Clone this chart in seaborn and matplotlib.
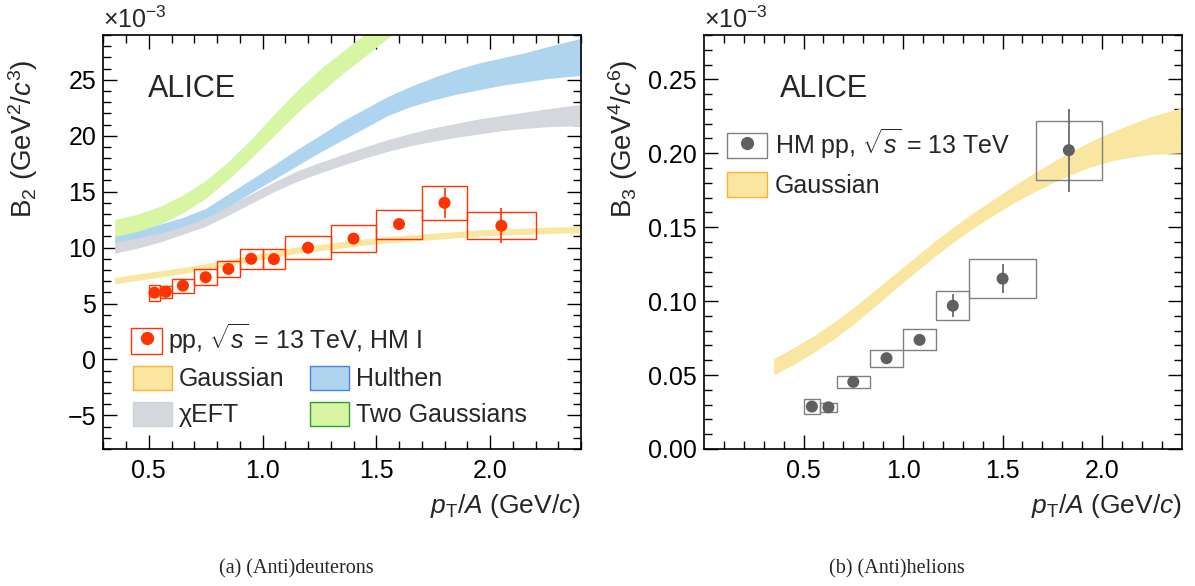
import numpy as np
import pandas as pd
import matplotlib
matplotlib.use("Agg")
import matplotlib.pyplot as plt
import matplotlib.patches as mpatches
from matplotlib.lines import Line2D
from matplotlib.legend_handler import HandlerTuple
from matplotlib.ticker import MultipleLocator, FixedLocator, FormatStrFormatter
import seaborn as sns

# (Anti)deuterons: B2 in units of 1e-3 GeV^2/c^3
d_edges = [0.5, 0.55, 0.6, 0.7, 0.8, 0.9, 1.0, 1.1, 1.3, 1.5, 1.7, 1.9, 2.2]
d_pt = [0.525, 0.575, 0.65, 0.75, 0.85, 0.95, 1.05, 1.2, 1.4, 1.6, 1.8, 2.05]
d_b2 = [5.97, 6.05, 6.6, 7.35, 8.1, 9.0, 8.97, 9.99, 10.8, 12.1, 14.0, 11.95]
d_stat = [0.2, 0.2, 0.25, 0.25, 0.25, 0.3, 0.3, 0.3, 0.35, 0.4, 1.37, 1.57]
d_syst = [0.7, 0.55, 0.62, 0.7, 0.73, 0.87, 0.9, 1.05, 1.22, 1.3, 1.5, 1.2]

# coalescence predictions for B2 (lower / upper edge of each band)
band_x = [0.35, 0.45, 0.55, 0.65, 0.75, 0.85, 0.95, 1.05, 1.15, 1.25, 1.35,
          1.45, 1.55, 1.65, 1.75, 1.85, 1.95, 2.05, 2.15, 2.25, 2.4]
gaus_lo = [6.77, 7.07, 7.37, 7.67, 8.02, 8.37, 8.77, 9.12, 9.47, 9.72, 9.97,
           10.22, 10.42, 10.57, 10.72, 10.87, 11.02, 11.12, 11.17, 11.27, 11.32]
gaus_hi = [7.33, 7.63, 7.93, 8.23, 8.58, 8.93, 9.33, 9.68, 10.03, 10.28, 10.53,
           10.78, 10.98, 11.13, 11.28, 11.43, 11.58, 11.68, 11.73, 11.83, 11.88]
hult_lo = [10.5, 10.85, 11.3, 11.9, 12.65, 13.7, 14.9, 16.1, 17.3, 18.5, 19.6,
           20.7, 21.8, 22.6, 23.2, 23.7, 24.1, 24.5, 24.8, 25.1, 25.4]
hult_hi = [11.25, 11.6, 12.1, 12.7, 13.5, 14.8, 16.1, 17.4, 18.75, 20.0, 21.3,
           22.4, 23.5, 24.4, 25.2, 25.9, 26.5, 26.95, 27.4, 27.95, 28.7]
eft_lo = [9.5, 9.95, 10.5, 11.2, 11.9, 12.9, 13.95, 15.0, 15.9, 16.65, 17.35,
          18.0, 18.6, 19.1, 19.5, 19.85, 20.15, 20.45, 20.65, 20.8, 20.9]
eft_hi = [10.7, 11.1, 11.6, 12.15, 12.8, 13.8, 14.8, 15.85, 16.85, 17.6, 18.3,
          19.0, 19.65, 20.2, 20.7, 21.1, 21.5, 21.8, 22.1, 22.4, 22.8]
twog_x = [0.35, 0.45, 0.55, 0.65, 0.75, 0.85, 0.95, 1.05, 1.15, 1.25, 1.35,
          1.45, 1.55, 1.65]
twog_lo = [11.0, 11.45, 12.1, 13.1, 14.4, 16.1, 18.0, 20.0, 22.0, 23.8, 25.5,
           27.1, 28.7, 30.2]
twog_hi = [12.5, 13.0, 13.7, 14.7, 16.0, 17.7, 19.7, 21.9, 24.0, 25.9, 27.5,
           29.1, 30.6, 32.0]

# (Anti)helions: B3 in units of 1e-3 GeV^4/c^6
h_edges = [0.5, 0.583, 0.667, 0.833, 1.0, 1.167, 1.333, 1.667, 2.0]
h_pt = [0.542, 0.625, 0.75, 0.917, 1.083, 1.25, 1.5, 1.833]
h_b3 = [0.0287, 0.0282, 0.0454, 0.0614, 0.0738, 0.0969, 0.1152, 0.2021]
h_stat = [0.002, 0.002, 0.002, 0.003, 0.003, 0.0076, 0.0096, 0.028]
h_syst = [0.005, 0.003, 0.0043, 0.0058, 0.0071, 0.0098, 0.013, 0.020]

h_gaus_lo = [0.0500, 0.0572, 0.0652, 0.0742, 0.0843, 0.0955, 0.1070, 0.1182,
             0.1293, 0.1396, 0.1491, 0.1577, 0.1660, 0.1733, 0.1800, 0.1860,
             0.1912, 0.1950, 0.1975, 0.1992, 0.2003]
h_gaus_hi = [0.0612, 0.0685, 0.0765, 0.0855, 0.0955, 0.1065, 0.1175, 0.1285,
             0.1395, 0.1498, 0.1595, 0.1685, 0.1775, 0.1860, 0.1940, 0.2015,
             0.2085, 0.2145, 0.2200, 0.2250, 0.2308]

RED = "#ff3300"
GREY = "#606060"
YELLOW = "#f9e6a0"
BLUE = "#aed4f0"
LGREY = "#d4d8dc"
GREEN = "#d8f5a3"

sns.set_theme(style="ticks")
plt.rcParams["font.family"] = ["Liberation Sans", "DejaVu Sans"]
plt.rcParams["mathtext.fontset"] = "custom"
plt.rcParams["mathtext.rm"] = "Liberation Sans"
plt.rcParams["mathtext.it"] = "Liberation Sans:italic"
plt.rcParams["mathtext.bf"] = "Liberation Sans:bold"
plt.rcParams["mathtext.sf"] = "Liberation Sans"

fig = plt.figure(figsize=(11.95, 5.86), dpi=100)
ax1 = fig.add_axes([0.08644, 0.2338, 0.39975, 0.70648])
ax2 = fig.add_axes([0.58912, 0.2338, 0.39975, 0.70648])


def style_axes(ax):
    for s in ax.spines.values():
        s.set_linewidth(1.2)
        s.set_color("black")
    ax.tick_params(which="both", direction="in", top=True, right=True,
                   width=1.0, colors="black", labelsize=18)
    ax.tick_params(which="major", length=10, pad=7)
    ax.tick_params(which="minor", length=5.5)
    ax.tick_params(axis="y", which="major", pad=5)
    ax.set_xlabel(r"$p_{\mathrm{T}}/A$ (GeV/$c$)", fontsize=19, loc="right")
    ax.xaxis.set_label_coords(1.0, -0.104)
    ax.text(0.0, 1.004, r"$\times$10$^{-3}$", transform=ax.transAxes,
            ha="left", va="bottom", fontsize=18)


# ---- left panel: deuterons ----
ax = ax1
ax.fill_between(band_x, gaus_lo, gaus_hi, color=YELLOW, lw=0, zorder=1)
ax.fill_between(band_x, eft_lo, eft_hi, color=LGREY, lw=0, zorder=1)
ax.fill_between(band_x, hult_lo, hult_hi, color=BLUE, lw=0, zorder=1)
ax.fill_between(twog_x, twog_lo, twog_hi, color=GREEN, lw=0, zorder=1)

d_lo = np.array(d_b2) - np.array(d_syst)
ax.bar(d_edges[:-1], 2 * np.array(d_syst), width=np.diff(d_edges), bottom=d_lo,
       align="edge", fill=False, edgecolor=RED, linewidth=1.0, zorder=3)
ax.errorbar(d_pt, d_b2, yerr=d_stat, fmt="none", ecolor=RED, elinewidth=1.2,
            capsize=0, zorder=4)
df_d = pd.DataFrame({"pt": d_pt, "b2": d_b2})
sns.scatterplot(data=df_d, x="pt", y="b2", ax=ax, color=RED, s=75,
                edgecolor="none", zorder=5, legend=False)

ax.set_xlim(0.3, 2.4)
ax.set_ylim(-8, 29)
ax.xaxis.set_major_locator(FixedLocator([0.5, 1.0, 1.5, 2.0]))
ax.xaxis.set_major_formatter(FormatStrFormatter("%.1f"))
ax.xaxis.set_minor_locator(MultipleLocator(0.1))
ax.yaxis.set_major_locator(MultipleLocator(5))
ax.yaxis.set_minor_locator(MultipleLocator(1))
style_axes(ax)
ax.set_ylabel(r"B$_{2}$ (GeV$^{2}$/$c^{3}$)", fontsize=20)
ax.yaxis.set_label_coords(-0.132, 0.749)
ax.text(0.094, 0.851, "ALICE", transform=ax.transAxes, fontsize=22,
        ha="left", va="baseline")

h_pp = (mpatches.Rectangle((0, 0), 1, 1, facecolor="none", edgecolor=RED, lw=1.0),
        Line2D([], [], ls="none", marker="o", color=RED, ms=8.5))
leg1 = ax.legend([h_pp], [r"pp, $\sqrt{s}$ = 13 TeV, HM I"],
                 handler_map={tuple: HandlerTuple(ndivide=1, pad=0)},
                 loc="upper left", bbox_to_anchor=(0.059, 0.3075),
                 frameon=False, fontsize=18, borderpad=0, borderaxespad=0,
                 handlelength=1.24, handleheight=1.24, handletextpad=0.22)
ax.add_artist(leg1)
band_handles = [
    mpatches.Patch(facecolor=YELLOW, edgecolor="#ffb030", lw=1.0),
    mpatches.Patch(facecolor=LGREY, edgecolor="#cfd2d6", lw=1.0),
    mpatches.Patch(facecolor=BLUE, edgecolor="#4a7fef", lw=1.0),
    mpatches.Patch(facecolor=GREEN, edgecolor="#2ca02c", lw=1.0),
]
ax.legend(band_handles, ["Gaussian", "\u03c7EFT", "Hulthen", "Two Gaussians"],
          ncol=2, loc="upper left", bbox_to_anchor=(0.0615, 0.201),
          frameon=False, fontsize=18, borderpad=0, borderaxespad=0,
          handlelength=1.58, handleheight=1.1, handletextpad=0.28,
          labelspacing=0.41, columnspacing=1.0)

# ---- right panel: helions ----
ax = ax2
ax.fill_between(band_x, h_gaus_lo, h_gaus_hi, color=YELLOW, lw=0, zorder=1)
h_lo = np.array(h_b3) - np.array(h_syst)
ax.bar(h_edges[:-1], 2 * np.array(h_syst), width=np.diff(h_edges), bottom=h_lo,
       align="edge", fill=False, edgecolor="#808080", linewidth=1.0, zorder=3)
ax.errorbar(h_pt, h_b3, yerr=h_stat, fmt="none", ecolor=GREY, elinewidth=1.2,
            capsize=0, zorder=4)
df_h = pd.DataFrame({"pt": h_pt, "b3": h_b3})
sns.scatterplot(data=df_h, x="pt", y="b3", ax=ax, color=GREY, s=75,
                edgecolor="none", zorder=5, legend=False)

ax.set_xlim(0.0, 2.4)
ax.set_ylim(0.0, 0.28)
ax.xaxis.set_major_locator(FixedLocator([0.5, 1.0, 1.5, 2.0]))
ax.xaxis.set_major_formatter(FormatStrFormatter("%.1f"))
ax.xaxis.set_minor_locator(FixedLocator(np.arange(1, 24) / 10))
ax.yaxis.set_major_locator(MultipleLocator(0.05))
ax.yaxis.set_major_formatter(FormatStrFormatter("%.2f"))
ax.yaxis.set_minor_locator(MultipleLocator(0.01))
style_axes(ax)
ax.set_ylabel(r"B$_{3}$ (GeV$^{4}$/$c^{6}$)", fontsize=20)
ax.yaxis.set_label_coords(-0.134, 0.749)
ax.text(0.158, 0.851, "ALICE", transform=ax.transAxes, fontsize=22,
        ha="left", va="baseline")

h_hm = (mpatches.Rectangle((0, 0), 1, 1, facecolor="none", edgecolor="#808080", lw=1.0),
        Line2D([], [], ls="none", marker="o", color=GREY, ms=8.5))
ax.legend([h_hm, mpatches.Patch(facecolor=YELLOW, edgecolor="#ffb030", lw=1.0)],
          [r"HM pp, $\sqrt{s}$ = 13 TeV", "Gaussian"],
          handler_map={tuple: HandlerTuple(ndivide=1, pad=0)},
          loc="upper left", bbox_to_anchor=(0.0488, 0.780),
          frameon=False, fontsize=18, borderpad=0, borderaxespad=0,
          handlelength=1.6, handleheight=1.16, handletextpad=0.3,
          labelspacing=0.47)

fig.text(296 / 1195, 1 - 569 / 586, "(a) (Anti)deuterons", ha="center",
         va="center", family="Liberation Serif", fontsize=14.5)
fig.text(897 / 1195, 1 - 569 / 586, "(b) (Anti)helions", ha="center",
         va="center", family="Liberation Serif", fontsize=14.5)

fig.savefig("out.png", dpi=100)
